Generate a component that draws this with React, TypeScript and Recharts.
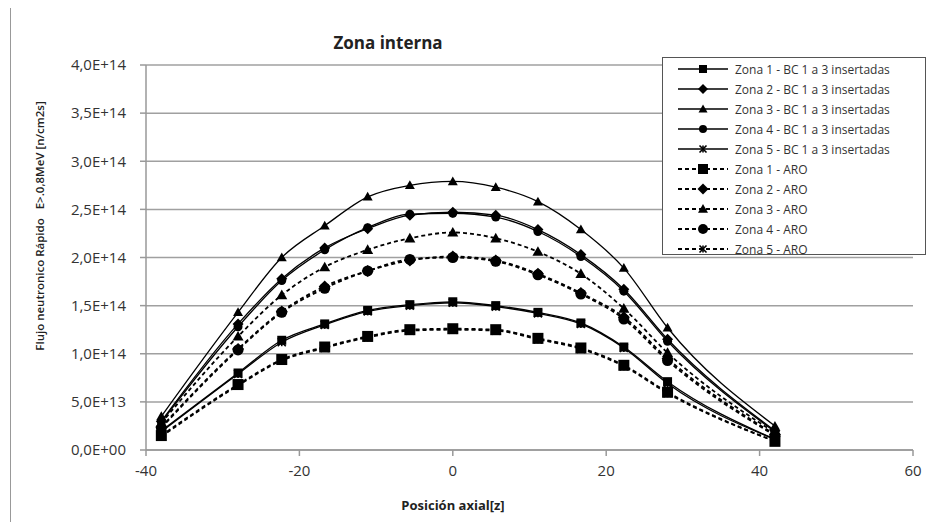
import React from 'react'
import { CartesianGrid, Legend, Line, LineChart, XAxis, YAxis } from 'recharts'

// posición axial [z]
const posicion = [-38, -28, -22.3, -16.7, -11.1, -5.6, 0, 5.6, 11.1, 16.7, 22.3, 28, 42]

// flujo rápido, en unidades de 1E+14 n/cm2s
const zona1BC = [0.2, 0.8, 1.14, 1.31, 1.45, 1.51, 1.54, 1.5, 1.43, 1.32, 1.07, 0.71, 0.11]
const zona2BC = [0.3, 1.31, 1.78, 2.1, 2.3, 2.44, 2.47, 2.44, 2.29, 2.03, 1.67, 1.15, 0.2]
const zona3BC = [0.35, 1.43, 2.0, 2.33, 2.63, 2.75, 2.79, 2.73, 2.58, 2.29, 1.89, 1.27, 0.25]
const zona4BC = [0.29, 1.28, 1.76, 2.08, 2.31, 2.45, 2.46, 2.42, 2.27, 2.01, 1.65, 1.13, 0.19]
const zona5BC = [0.19, 0.79, 1.12, 1.3, 1.44, 1.5, 1.53, 1.49, 1.42, 1.31, 1.06, 0.69, 0.11]
const zona1ARO = [0.15, 0.68, 0.94, 1.07, 1.18, 1.25, 1.26, 1.25, 1.16, 1.06, 0.88, 0.6, 0.09]
const zona2ARO = [0.24, 1.05, 1.44, 1.7, 1.86, 1.97, 2.01, 1.97, 1.83, 1.63, 1.38, 0.95, 0.16]
const zona3ARO = [0.28, 1.18, 1.61, 1.9, 2.08, 2.2, 2.26, 2.2, 2.06, 1.83, 1.47, 1.01, 0.18]
const zona4ARO = [0.23, 1.04, 1.43, 1.68, 1.86, 1.98, 2.0, 1.96, 1.82, 1.62, 1.36, 0.93, 0.15]
const zona5ARO = [0.14, 0.67, 0.93, 1.06, 1.17, 1.24, 1.25, 1.24, 1.15, 1.05, 0.87, 0.59, 0.09]

const xTicks = [-40, -20, 0, 20, 40, 60]
const yTicks = [0, 0.5, 1, 1.5, 2, 2.5, 3, 3.5, 4]

const series = [
  { key: 'z1bc', name: 'Zona 1 - BC 1 a 3 insertadas', values: zona1BC, shape: 'square', dashed: false, size: 9 },
  { key: 'z2bc', name: 'Zona 2 - BC 1 a 3 insertadas', values: zona2BC, shape: 'diamond', dashed: false, size: 11 },
  { key: 'z3bc', name: 'Zona 3 - BC 1 a 3 insertadas', values: zona3BC, shape: 'triangle', dashed: false, size: 10 },
  { key: 'z4bc', name: 'Zona 4 - BC 1 a 3 insertadas', values: zona4BC, shape: 'circle', dashed: false, size: 9 },
  { key: 'z5bc', name: 'Zona 5 - BC 1 a 3 insertadas', values: zona5BC, shape: 'x', dashed: false, size: 8 },
  { key: 'z1aro', name: 'Zona 1 - ARO', values: zona1ARO, shape: 'square', dashed: true, size: 11 },
  { key: 'z2aro', name: 'Zona 2 - ARO', values: zona2ARO, shape: 'diamond', dashed: true, size: 12 },
  { key: 'z3aro', name: 'Zona 3 - ARO', values: zona3ARO, shape: 'triangle', dashed: true, size: 11 },
  { key: 'z4aro', name: 'Zona 4 - ARO', values: zona4ARO, shape: 'circle', dashed: true, size: 11 },
  { key: 'z5aro', name: 'Zona 5 - ARO', values: zona5ARO, shape: 'x', dashed: true, size: 8 },
]

const data = posicion.map((z, i) => {
  const row: Record<string, number> = { z }
  series.forEach(s => { row[s.key] = s.values[i] })
  return row
})

const fmtSci = (v: number) => {
  const val = v * 1e14
  if (val === 0) return '0,0E+00'
  const [m, e] = val.toExponential(1).split('e')
  const exp = parseInt(e, 10)
  return `${m.replace('.', ',')}E${exp >= 0 ? '+' : '-'}${String(Math.abs(exp)).padStart(2, '0')}`
}

const Marker = ({ shape, cx, cy, size }) => {
  const s = size / 2
  if (cx == null || cy == null) return null
  if (shape === 'square') return <rect x={cx - s} y={cy - s} width={size} height={size} fill="#000" />
  if (shape === 'diamond') return <polygon points={`${cx},${cy - s} ${cx + s},${cy} ${cx},${cy + s} ${cx - s},${cy}`} fill="#000" />
  if (shape === 'triangle') return <polygon points={`${cx},${cy - s} ${cx + s},${cy + s * 0.75} ${cx - s},${cy + s * 0.75}`} fill="#000" />
  if (shape === 'circle') return <circle cx={cx} cy={cy} r={s} fill="#000" />
  return (
    <g stroke="#000" strokeWidth={1.6}>
      <line x1={cx - s} y1={cy - s} x2={cx + s} y2={cy + s} />
      <line x1={cx - s} y1={cy + s} x2={cx + s} y2={cy - s} />
      <line x1={cx} y1={cy - s} x2={cx} y2={cy + s} />
    </g>
  )
}

const renderLegend = () => (
  <div style={{ border: '1.5px solid #555', background: '#fff', width: 264, height: 198, boxSizing: 'border-box', paddingTop: 1, fontFamily: 'Open Sans', fontSize: 12, color: '#333' }}>
    {series.map(s => (
      <div key={s.key} style={{ height: 20, display: 'flex', alignItems: 'center' }}>
        <svg width={72} height={16} style={{ flex: 'none' }}>
          <line x1={15} y1={8} x2={65} y2={8} stroke="#000" strokeWidth={s.dashed ? 2 : 1.6} strokeDasharray={s.dashed ? '4 3' : undefined} />
          <Marker shape={s.shape} cx={40} cy={8} size={s.size - 1} />
        </svg>
        <span style={{ whiteSpace: 'nowrap' }}>{s.name}</span>
      </div>
    ))}
  </div>
)

export default function App() {
  return (
    <div style={{ position: 'relative', width: 919, height: 514, fontFamily: 'Open Sans' }}>
      <div style={{ position: 'absolute', left: 2, top: -5, width: 920, height: 524, border: '1px solid #999', boxSizing: 'border-box' }} />
      <LineChart width={919} height={514} data={data} margin={{ top: 57, right: 14, left: 0, bottom: 42 }}>
        <CartesianGrid vertical={false} stroke="#a0a0a0" strokeWidth={1.5} />
        <XAxis
          dataKey="z"
          type="number"
          domain={[-40, 60]}
          ticks={xTicks}
          height={30}
          stroke="#999"
          strokeWidth={1.5}
          tickSize={6}
          tickMargin={9}
          tick={{ fill: '#333', fontSize: 15, fontFamily: 'Open Sans' }}
        />
        <YAxis
          type="number"
          domain={[0, 4]}
          ticks={yTicks}
          width={138}
          stroke="#999"
          strokeWidth={1.5}
          tickSize={6}
          tickMargin={14}
          tickFormatter={fmtSci}
          tick={{ fill: '#333', fontSize: 15, fontFamily: 'Open Sans' }}
        />
        <Legend
          layout="horizontal"
          verticalAlign="middle"
          align="center"
          wrapperStyle={{ left: 654, top: 49, width: 266 }}
          content={renderLegend}
        />
        {series.map(s => (
          <Line
            key={s.key}
            dataKey={s.key}
            name={s.name}
            type="monotone"
            stroke="#000"
            strokeWidth={s.dashed ? 1.8 : 1.3}
            strokeDasharray={s.dashed ? '4 3' : undefined}
            isAnimationActive={false}
            dot={(p) => <Marker key={`${s.key}-${p.index}`} shape={s.shape} cx={p.cx} cy={p.cy} size={s.size} />}
            activeDot={false}
          />
        ))}
      </LineChart>
      <div style={{ position: 'absolute', left: 380, top: 34, transform: 'translate(-50%, -50%)', fontSize: 17, fontWeight: 'bold', color: '#222', whiteSpace: 'nowrap' }}>
        Zona interna
      </div>
      <div style={{ position: 'absolute', left: 445, top: 497, transform: 'translate(-50%, -50%)', fontSize: 13, fontWeight: 'bold', color: '#222', whiteSpace: 'nowrap' }}>
        Posición axial[z]
      </div>
      <div style={{ position: 'absolute', left: 31, top: 218, transform: 'translate(-50%, -50%) rotate(-90deg)', fontSize: 11.5, fontWeight: 600, color: '#222', whiteSpace: 'pre' }}>
        {'Flujo neutronico Rápido   E>.0,8MeV [n/cm2s]'}
      </div>
    </div>
  )
}
